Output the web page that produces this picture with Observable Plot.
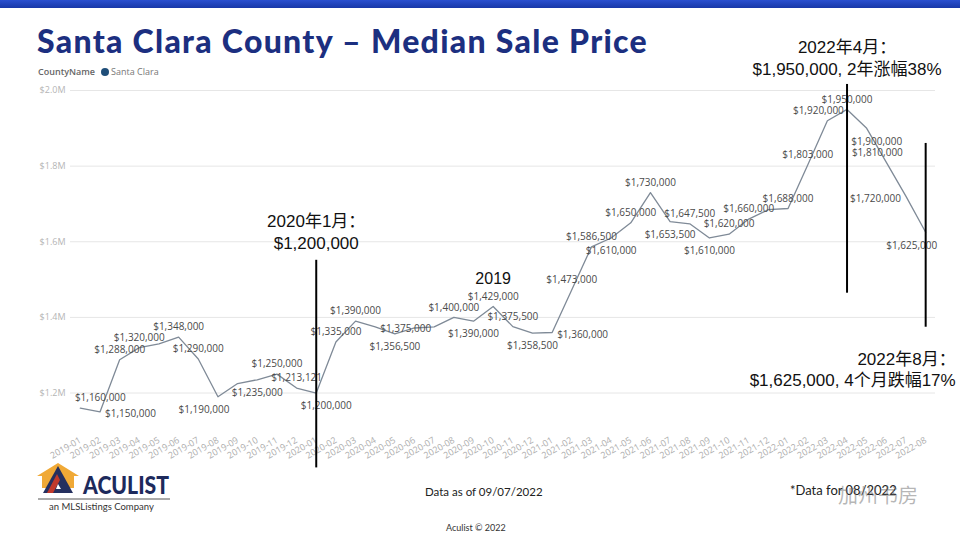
<!DOCTYPE html>
<html><head><meta charset="utf-8">
<script src="https://cdn.jsdelivr.net/npm/d3@7"></script>
<script src="https://cdn.jsdelivr.net/npm/@observablehq/plot@0.6"></script>
<style>
body{margin:0;background:#fff;}
#page{position:relative;width:960px;height:540px;overflow:hidden;font-family:"Lato","Open Sans",sans-serif;background:#fff;}
#bar{position:absolute;left:0;top:0;width:960px;height:8px;background:linear-gradient(#2a50d0,#1838a8);}
#title{position:absolute;left:37px;top:21px;font-weight:900;font-size:32px;letter-spacing:1.3px;font-family:"Lato",sans-serif;color:#1c2f80;white-space:nowrap;}
#legend{position:absolute;left:38px;top:65px;font-size:9px;font-family:"Open Sans",sans-serif;color:#777;white-space:nowrap;}
#legend b{font-weight:600;color:#666;margin-right:6px;}
#legend .dot{display:inline-block;width:8px;height:8px;border-radius:50%;background:#1f4e79;vertical-align:-1px;margin-right:2px;}
#chart{position:absolute;left:0;top:0;}
.foot{position:absolute;white-space:nowrap;font-family:"Lato","Open Sans",sans-serif;color:#222;}
#logo{position:absolute;left:36px;top:460px;}
</style></head>
<body><div id="page">
<div id="bar"></div>
<div id="chart"></div>
<div id="title">Santa Clara County – Median Sale Price</div>
<div id="legend"><b>CountyName</b><span class="dot"></span>Santa Clara</div>
<svg id="logo" width="150" height="55" viewBox="0 0 150 55">
  <polygon points="1,16 22,3 43,16 38,16 38,28 6,28 6,16" fill="#f0a936"/>
  <polygon points="7,33 22,6 37,33" fill="#25305f"/>
  <polygon points="11,33 21,14 24,20 17,33" fill="#c0392b"/>
  <polygon points="20,29 22,24 25,29" fill="#fff"/>
  <text x="47" y="34" font-family="Lato" font-weight="900" font-size="25" textLength="86" lengthAdjust="spacingAndGlyphs" fill="#1d2a5c">ACULIST</text>
  <line x1="2" y1="39" x2="134" y2="39" stroke="#555" stroke-width="1"/>
  <text x="13" y="50" font-family="Lato" font-size="9.5" fill="#333">an MLSListings Company</text>
</svg>
<div class="foot" style="left:425px;top:485px;font-size:11.5px;">Data as of 09/07/2022</div>
<div class="foot" style="left:446px;top:522px;font-size:9px;color:#333;">Aculist © 2022</div>
<div class="foot" style="left:790px;top:482px;font-size:13px;">*Data for 08/2022</div>
<div class="foot" style="left:838px;top:480px;font-size:20px;font-family:'Noto Sans CJK SC';color:rgba(110,110,110,0.5);">加州书房</div>
</div>
<script>
// ---- data ----
const months = ["2019-01","2019-02","2019-03","2019-04","2019-05","2019-06","2019-07","2019-08","2019-09","2019-10","2019-11","2019-12",
"2020-01","2020-02","2020-03","2020-04","2020-05","2020-06","2020-07","2020-08","2020-09","2020-10","2020-11","2020-12",
"2021-01","2021-02","2021-03","2021-04","2021-05","2021-06","2021-07","2021-08","2021-09","2021-10","2021-11","2021-12",
"2022-01","2022-02","2022-03","2022-04","2022-05","2022-06","2022-07","2022-08"];
const prices = [1160000,1150000,1288000,1320000,1330000,1348000,1290000,1190000,1225000,1235000,1250000,1213121,
1200000,1335000,1390000,1375000,1356500,1372000,1375000,1400000,1390000,1429000,1375500,1358500,
1360000,1473000,1586500,1610000,1650000,1730000,1653500,1647500,1610000,1620000,1660000,1685000,
1688000,1803000,1920000,1950000,1900000,1810000,1720000,1625000];
// data-label placement codes ("" = no label)
const labelSide = ["ar","r","a","a","","a","a","bl","","b","a","a",
"br","a","a","r","b","","","a","b","a","a","b",
"r","a","a","b","a","a","b","a","b","a","a","",
"a","a","al","a","br","al","l","bl"];
const yTicks = [1200000,1400000,1600000,1800000,2000000];
const annotMonths = ["2020-01","2022-04","2022-08"];
const annotTop = [1551000,2016000,1860000];
const annotBottom = [1002000,1464000,1374000];
const annotText = ["2020年1月：\n$1,200,000","2022年4月：\n$1,950,000, 2年涨幅38%","2022年8月：\n$1,625,000, 4个月跌幅17%"];
const annotTextY = [1582000,2042000,1314000];
const noteText = ["2019"];
const noteMonth = ["2020-10"];
const noteY = [1487000];

// placement code -> offsets (styling, not data)
const place = {
  a:{dx:0,dy:-10,anchor:"middle"}, b:{dx:0,dy:13,anchor:"middle"},
  al:{dx:-9,dy:-10,anchor:"middle"}, ar:{dx:20,dy:-10,anchor:"middle"},
  bl:{dx:-14,dy:13,anchor:"middle"}, br:{dx:10,dy:13,anchor:"middle"},
  r:{dx:5,dy:2,anchor:"start"}, l:{dx:-5,dy:2,anchor:"end"}
};

const rows = months.map((m,i)=>({month:m, price:prices[i], side:labelSide[i]}));
const annots = annotMonths.map((m,i)=>({month:m, top:annotTop[i], bottom:annotBottom[i], text:annotText[i], ty:annotTextY[i]}));
const fmt = d3.format("$,");

const labelMarks = Object.entries(place).map(([k,p]) =>
  Plot.text(rows.filter(d=>d.side===k),{x:"month", y:"price", text:d=>fmt(d.price), dx:p.dx, dy:p.dy, textAnchor:p.anchor, fontSize:10, fill:"#4a4a4a"}));

const annFont = "'Liberation Sans','Noto Sans CJK SC',sans-serif";
const chart = Plot.plot({
  width:960, height:540,
  marginLeft:70, marginRight:25, marginTop:90, marginBottom:121,
  x:{type:"point", domain:months, padding:0.5, round:false, label:null},
  y:{domain:[1130000,2000000], label:null},
  style:{background:"transparent", fontFamily:"'Open Sans', sans-serif", overflow:"visible"},
  marks:[
    Plot.gridY(yTicks,{stroke:"#e6e6e6", strokeOpacity:1}),
    Plot.axisY(yTicks,{tickSize:0, tickPadding:5, tickFormat:d=>"$"+(d/1e6).toFixed(1)+"M", fill:"#b5b5b5", fontSize:9, label:null}),
    Plot.axisX({tickSize:0, tickPadding:20, tickRotate:-30, textAnchor:"end", fill:"#adadad", fontSize:9, label:null}),
    Plot.lineY(rows,{x:"month", y:"price", stroke:"#7f8a97", strokeWidth:1.3}),
    ...labelMarks,
    Plot.ruleX(annots,{x:"month", y1:"top", y2:"bottom", stroke:"#000", strokeWidth:2}),
    Plot.text(annots.slice(0,2),{x:"month", y:"ty", text:"text", lineAnchor:"bottom", lineHeight:1.25, fontSize:17, fill:"#111", fontFamily:annFont}),
    Plot.text(annots.slice(2),{x:"month", y:"ty", text:"text", lineAnchor:"top", textAnchor:"end", dx:30, lineHeight:1.25, fontSize:17, fill:"#111", fontFamily:annFont}),
    Plot.text(noteText,{x:noteMonth, y:noteY, text:d=>d, lineAnchor:"bottom", fontSize:16, fill:"#111", fontFamily:annFont})
  ]
});
document.getElementById("chart").appendChild(chart);
</script>
</body></html>
